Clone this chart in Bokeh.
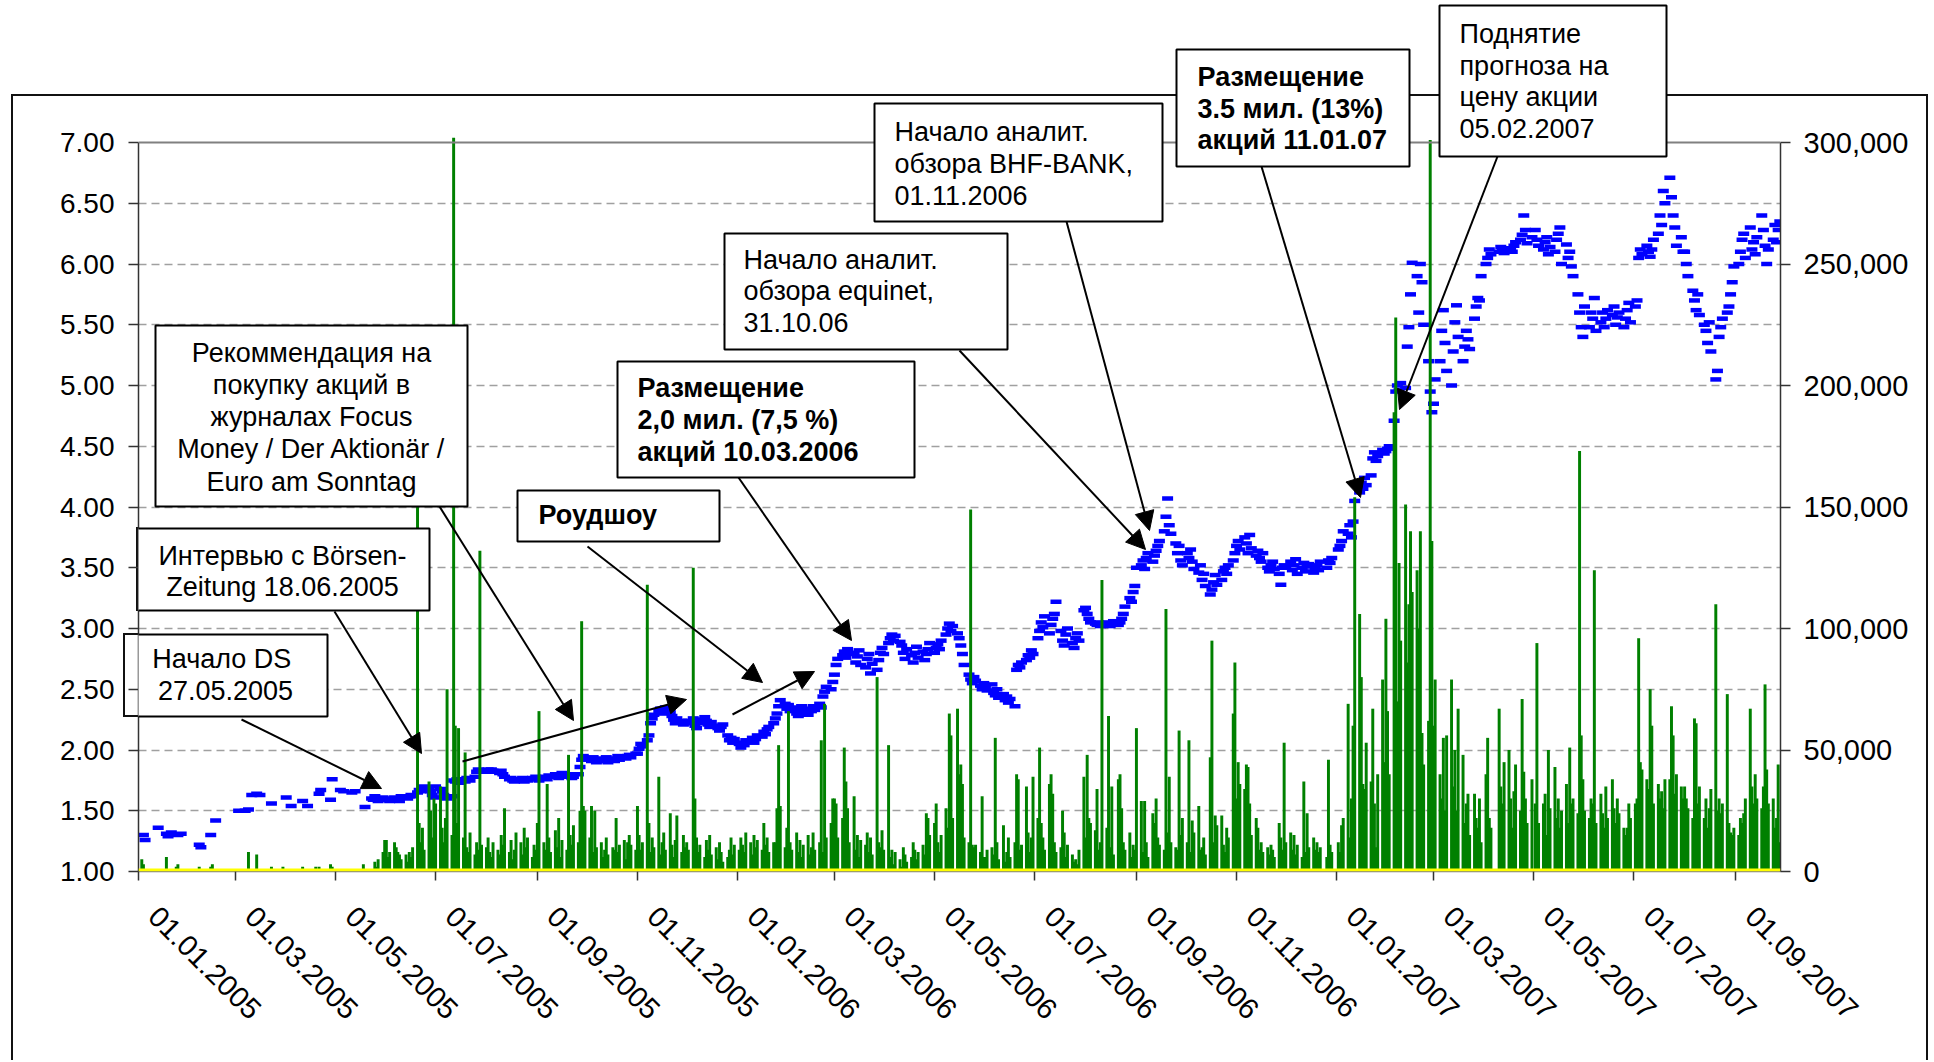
import math
import pandas as pd
from bokeh.plotting import figure
from bokeh.models import (Range1d, LinearAxis, FixedTicker, NumeralTickFormatter, Span,
                          BoxAnnotation, Label, Arrow, NormalHead, ColumnDataSource)
from bokeh.embed import file_html
from bokeh.resources import INLINE

# ---------------------------------------------------------------- data
tick_labels = ["01.01.2005", "01.03.2005", "01.05.2005", "01.07.2005", "01.09.2005",
               "01.11.2005", "01.01.2006", "01.03.2006", "01.05.2006", "01.07.2006",
               "01.09.2006", "01.11.2006", "01.01.2007", "01.03.2007", "01.05.2007",
               "01.07.2007", "01.09.2007"]
price_ticks = [1.0, 1.5, 2.0, 2.5, 3.0, 3.5, 4.0, 4.5, 5.0, 5.5, 6.0, 6.5, 7.0]
volume_ticks = [0, 50000, 100000, 150000, 200000, 250000, 300000]

# daily volume, thousand shares, one list per month (trading days in order)
vol_2005 = [
    [5, 3, 0, 0, 0, 0, 0, 0, 0, 0, 0, 6, 0, 0, 0, 2, 3, 0, 0, 0, 0],
    [0, 0, 0, 0, 2, 0, 0, 0, 0, 2, 3, 0, 0, 0, 0, 0, 0, 0, 0, 0],
    [0, 0, 0, 0, 0, 0, 8, 0, 0, 7, 0, 0, 0, 0, 0, 0, 2, 0, 0, 0, 0, 2, 0],
    [0, 0, 0, 0, 0, 0, 2, 0, 0, 0, 0, 0, 2, 0, 2, 0, 0, 0, 0, 3, 2],
    [0, 0, 0, 0, 0, 0, 0, 0, 0, 0, 0, 0, 3, 0, 0, 0, 0, 4, 2, 5, 8, 13],
    [13, 6, 8, 12, 10, 8, 7, 5, 7, 4, 8, 6, 10, 190, 20, 12, 18, 9, 37, 25, 14, 30],
    [28, 35, 18, 12, 22, 75, 15, 302, 60, 20, 59, 14, 49, 10, 8, 16, 7, 12, 9, 132, 11],
    [10, 14, 8, 6, 12, 9, 7, 15, 11, 26, 8, 13, 5, 9, 16, 12, 7, 18, 10, 14, 6, 11, 9],
    [20, 66, 12, 9, 36, 14, 8, 17, 10, 22, 6, 13, 9, 48, 15, 11, 19, 12, 25, 103, 27, 25],
    [14, 27, 8, 25, 10, 12, 6, 9, 14, 7, 10, 9, 22, 8, 11, 13, 5, 12, 15, 11, 9],
    [27, 15, 9, 12, 118, 20, 8, 14, 10, 39, 7, 12, 16, 9, 24, 11, 6, 13, 23, 8, 15, 10],
    [12, 9, 125, 30, 14, 8, 11, 6, 13, 9, 15, 7, 10, 5, 12, 8, 4, 6, 9, 14, 7, 11],
]
vol_2006 = [
    [9, 14, 11, 8, 16, 12, 7, 15, 10, 13, 9, 20, 11, 14, 8, 12, 12, 26, 52, 27, 10, 18],
    [66, 12, 9, 16, 8, 13, 6, 11, 15, 7, 10, 16, 9, 12, 54, 8, 69, 14, 20, 30],
    [30, 28, 14, 22, 51, 37, 26, 12, 31, 9, 15, 6, 13, 11, 16, 8, 14, 7, 80, 12, 10, 17, 9],
    [52, 6, 9, 3, 8, 5, 2, 10, 7, 4, 6, 12, 9, 5, 8, 11, 7, 24, 22, 15],
    [20, 28, 12, 8, 15, 26, 18, 65, 56, 22, 67, 40, 44, 36, 14, 12, 149, 11, 10, 11, 8, 31, 6],
    [6, 9, 10, 7, 55, 12, 5, 19, 4, 8, 14, 6, 12, 40, 38, 9, 11, 35, 16, 8, 14, 39],
    [22, 51, 20, 14, 9, 36, 40, 32, 12, 8, 10, 25, 16, 6, 11, 7, 4, 5, 3, 9, 39],
    [14, 48, 22, 20, 17, 34, 9, 12, 120, 18, 64, 10, 35, 7, 38, 40, 26, 12, 9, 16, 6, 11, 9],
    [59, 29, 8, 29, 12, 6, 24, 20, 30, 14, 11, 9, 108, 16, 39, 12, 10, 9, 58, 15, 22],
    [12, 54, 8, 21, 16, 27, 9, 10, 14, 7, 47, 95, 12, 23, 19, 23, 11, 8, 18, 14, 65, 86],
    [30, 45, 36, 34, 44, 43, 28, 15, 22, 18, 9, 12, 8, 10, 7, 11, 9, 6, 20, 14, 9, 53],
    [12, 16, 9, 15, 7, 11, 6, 37, 8, 24, 10, 14, 9, 12, 8, 10, 0, 6, 46, 11, 8],
]
vol_2007 = [
    [0, 12, 8, 19, 22, 69, 14, 30, 60, 154, 106, 80, 36, 34, 53, 37, 67, 28, 10, 40, 79, 45, 104],
    [66, 40, 189, 228, 70, 127, 95, 151, 86, 110, 140, 115, 124, 100, 140, 57, 44, 62, 301, 136],
    [60, 79, 40, 30, 55, 25, 56, 79, 35, 50, 25, 67, 48, 20, 28, 32, 15, 32, 22, 18, 30, 12],
    [40, 55, 22, 18, 0, 0, 67, 35, 28, 45, 50, 30, 18, 33, 44, 25, 71, 41, 30, 20, 38],
    [0, 28, 94, 20, 28, 32, 15, 50, 26, 43, 22, 30, 18, 25, 36, 20, 51, 28, 30, 24, 173, 56, 38],
    [25, 22, 30, 28, 124, 20, 32, 24, 18, 35, 22, 38, 26, 20, 30, 24, 18, 15, 18, 28, 22],
    [28, 30, 96, 45, 42, 38, 34, 75, 60, 28, 36, 30, 33, 26, 38, 38, 68, 56, 32, 40, 35, 30],
    [35, 30, 26, 22, 63, 61, 28, 35, 22, 30, 18, 26, 34, 110, 25, 30, 24, 28, 73, 20, 16, 15, 18],
    [15, 22, 20, 24, 30, 67, 35, 28, 40, 30, 26, 35, 77, 42, 28, 30, 18, 22, 44, 12],
]

# daily closing price, euro cents (0 = no trade that day)
price_2005 = [
    [0, 130, 126, 0, 0, 0, 0, 0, 136, 0, 0, 131, 129, 0, 132, 0, 130, 0, 131, 0, 0],
    [0, 0, 0, 0, 122, 120, 0, 0, 0, 130, 0, 0, 142, 0, 0, 0, 0, 0, 0, 0],
    [0, 0, 150, 0, 150, 0, 151, 0, 163, 164, 0, 163, 0, 0, 0, 0, 156, 0, 0, 0, 0, 0, 0],
    [161, 154, 0, 0, 0, 0, 158, 0, 0, 154, 0, 0, 0, 0, 164, 167, 0, 0, 0, 159, 176],
    [0, 0, 167, 0, 166, 0, 0, 165, 0, 166, 0, 0, 0, 153, 0, 160, 159, 162, 160, 158, 161, 159],
    [159, 160, 158, 161, 160, 159, 158, 162, 161, 160, 162, 163, 162, 165, 167, 166, 168, 170, 169, 166, 163, 161],
    [170, 168, 166, 163, 161, 160, 162, 175, 174, 176, 173, 175, 174, 177, 176, 175, 178, 182, 184, 183, 182],
    [183, 184, 182, 184, 183, 182, 181, 183, 180, 178, 176, 177, 175, 174, 176, 175, 177, 174, 176, 175, 177, 176, 178],
    [176, 175, 177, 178, 176, 179, 178, 180, 178, 177, 179, 181, 178, 180, 179, 177, 178, 180, 186, 192, 195, 193],
    [193, 191, 194, 192, 190, 191, 193, 192, 194, 190, 192, 191, 193, 195, 192, 194, 193, 195, 196, 194, 197],
    [197, 201, 205, 203, 208, 212, 222, 226, 229, 232, 234, 230, 233, 235, 231, 228, 225, 222, 226, 224, 221, 223],
    [222, 224, 226, 220, 218, 222, 225, 227, 224, 221, 219, 223, 220, 218, 216, 219, 221, 212, 208, 210, 206, 209],
]
price_2006 = [
    [205, 202, 206, 204, 208, 207, 210, 206, 209, 212, 211, 215, 213, 217, 219, 222, 226, 230, 236, 241, 238, 234],
    [237, 232, 235, 230, 228, 233, 236, 231, 229, 234, 232, 236, 233, 238, 235, 244, 248, 252, 250, 256],
    [262, 270, 275, 278, 281, 276, 283, 279, 280, 272, 277, 282, 270, 268, 275, 279, 263, 271, 266, 274, 280, 284, 279],
    [288, 292, 295, 290, 294, 289, 286, 280, 275, 283, 278, 272, 280, 285, 276, 281, 274, 279, 283, 288],
    [280, 284, 287, 283, 290, 295, 300, 304, 298, 302, 296, 292, 286, 279, 270, 262, 258, 255, 260, 257, 253, 250, 255],
    [252, 249, 254, 247, 245, 250, 243, 246, 241, 244, 239, 242, 236, 266, 270, 268, 272, 274, 278, 276, 282, 279],
    [292, 298, 305, 301, 310, 296, 303, 308, 312, 322, 298, 290, 286, 295, 300, 288, 284, 292, 296, 290, 315],
    [317, 312, 308, 305, 304, 303, 305, 302, 304, 303, 305, 302, 304, 306, 303, 305, 308, 312, 318, 325, 322, 330, 335],
    [350, 352, 356, 349, 358, 362, 355, 360, 364, 368, 372, 380, 392, 407, 385, 378, 370, 362, 368, 356, 352],
    [362, 358, 365, 355, 349, 346, 352, 340, 345, 335, 328, 332, 338, 344, 336, 340, 347, 350, 345, 352, 356, 362],
    [368, 372, 365, 375, 370, 362, 377, 366, 360, 364, 358, 355, 362, 350, 347, 352, 355, 349, 345, 336, 350, 352],
    [350, 355, 348, 352, 357, 345, 350, 354, 347, 351, 353, 346, 349, 352, 348, 355, 0, 350, 356, 354, 358],
]
price_2007 = [
    [0, 365, 368, 372, 380, 378, 385, 375, 388, 405, 412, 420, 415, 424, 418, 426, 440, 445, 438, 442, 447, 444, 446],
    [448, 450, 471, 495, 500, 496, 502, 498, 532, 548, 575, 601, 590, 560, 600, 585, 550, 520, 495, 478],
    [485, 505, 520, 545, 562, 535, 512, 500, 528, 552, 566, 540, 520, 532, 545, 538, 530, 555, 565, 572, 570, 590],
    [600, 605, 612, 608, 0, 0, 610, 614, 611, 609, 613, 612, 610, 615, 618, 620, 624, 640, 628, 617, 622],
    [0, 628, 620, 615, 612, 618, 622, 608, 614, 610, 620, 625, 630, 600, 616, 605, 610, 598, 590, 575, 560, 548, 540],
    [565, 548, 560, 555, 572, 545, 552, 560, 548, 555, 562, 558, 565, 550, 556, 560, 548, 555, 562, 568, 552],
    [565, 570, 605, 612, 608, 615, 610, 606, 612, 620, 625, 640, 632, 660, 650, 671, 655, 640, 630, 615, 622, 610],
    [610, 600, 590, 578, 570, 562, 575, 558, 550, 545, 535, 552, 528, 505, 512, 540, 548, 555, 560, 565, 575, 585, 598],
    [600, 610, 620, 625, 605, 630, 612, 618, 608, 622, 640, 628, 615, 600, 612, 620, 632, 618, 628, 635],
]

# annotation texts
notes = [
    [("Начало  DS", "normal"), ("27.05.2005", "normal")],
    [("Интервью с Börsen-", "normal"), ("Zeitung 18.06.2005", "normal")],
    [("Рекоммендация на", "normal"), ("покупку акций в", "normal"), ("журналах Focus", "normal"),
     ("Money / Der Aktionär /", "normal"), ("Euro am Sonntag", "normal")],
    [("Роудшоу", "bold")],
    [("Размещение", "bold"), ("2,0 мил. (7,5 %)", "bold"), ("акций 10.03.2006", "bold")],
    [("Начало аналит.", "normal"), ("обзора equinet,", "normal"), ("31.10.06", "normal")],
    [("Начало аналит.", "normal"), ("обзора BHF-BANK,", "normal"), ("01.11.2006", "normal")],
    [("Размещение", "bold"), ("3.5 мил. (13%)", "bold"), ("акций 11.01.07", "bold")],
    [("Поднятие", "normal"), ("прогноза на", "normal"), ("цену акции", "normal"), ("05.02.2007", "normal")],
]

# ---------------------------------------------------------------- build series
EPOCH = pd.Timestamp("1970-01-01")
DAY = 86400000.0


def ms(ts):
    return (ts - EPOCH).total_seconds() * 1000.0


vx, vy, px_, py_ = [], [], [], []
for year, vmonths, pmonths in ((2005, vol_2005, price_2005), (2006, vol_2006, price_2006),
                               (2007, vol_2007, price_2007)):
    for m, (vl, pl) in enumerate(zip(vmonths, pmonths), start=1):
        start = pd.Timestamp(year=year, month=m, day=1)
        days = pd.bdate_range(start, start + pd.offsets.MonthEnd(0))
        for d, v in zip(days, vl):
            if v > 0:
                vx.append(ms(d))
                vy.append(v * 1000)
        for d, c in zip(days, pl):
            if c > 0:
                px_.append(ms(d))
                py_.append(c / 100.0)

tick_ms = [ms(pd.Timestamp(year=int(s[6:]), month=int(s[3:5]), day=int(s[:2]))) for s in tick_labels]

# ---------------------------------------------------------------- layout (page pixels)
W, H = 1932, 1060
FL, FR, FB = 138, 1780, 871
PX_PER_DAY = (1735 - 138) / 973.0
T0 = ms(pd.Timestamp("2005-01-01"))


def X(px):
    return T0 + (px - FL) / PX_PER_DAY * DAY


def Y(py):
    return 1 + (FB - py) * 6 / 729.0


p = figure(width=W, height=H, output_backend="svg", toolbar_location=None,
           x_range=Range1d(X(FL), X(FR)), y_range=Range1d(1, Y(0)),
           min_border_left=FL, min_border_right=W - FR, min_border_top=0, min_border_bottom=H - FB,
           background_fill_color=None, border_fill_color=None, outline_line_color=None)
p.extra_y_ranges = {"vol": Range1d(0, (Y(0) - 1) * 50000)}
p.extra_x_ranges = {"lab": Range1d(X(FL - 15), X(FR - 15))}

# chart-area border and the parts of two note boxes that lie left of the plot frame:
# thin CSS strips behind the (transparent) canvas.  (x, y, w, h) in page pixels
strips = [(11, 94, 1917, 2), (11, 94, 2, 1000), (1926, 94, 2, 1000),
          (123, 633, 16, 2), (123, 633, 2, 84), (123, 715, 16, 2),
          (136, 527, 2, 84), (136, 527, 3, 2), (136, 609, 3, 2)]
p.styles = {
    "background-color": "white",
    "background-image": ", ".join(["linear-gradient(#111111, #111111)"] * len(strips)),
    "background-position": ", ".join(f"{x}px {y}px" for x, y, w, h in strips),
    "background-size": ", ".join(f"{w}px {h}px" for x, y, w, h in strips),
    "background-repeat": "no-repeat",
}

FONT = "Liberation Sans"
AX = "#333333"

# left axis
ya = p.yaxis[0]
ya.bounds = (1, 7)
ya.ticker = FixedTicker(ticks=price_ticks)
ya.formatter = NumeralTickFormatter(format="0.00")
ya.major_label_text_font = FONT
ya.major_label_text_font_size = "28px"
ya.major_label_text_color = "black"
ya.major_tick_out = 10
ya.major_tick_in = 0
ya.minor_tick_out = 0
ya.minor_tick_in = 0
ya.axis_line_color = AX
ya.axis_line_width = 1.5
ya.major_tick_line_color = AX
ya.major_tick_line_width = 1.5
ya.major_label_standoff = 14

# right axis
ra = LinearAxis(y_range_name="vol", bounds=(0, 300000), ticker=FixedTicker(ticks=volume_ticks),
                formatter=NumeralTickFormatter(format="0,0"),
                major_label_text_font=FONT, major_label_text_font_size="29px",
                major_label_text_color="black", major_tick_out=10, major_tick_in=0,
                minor_tick_out=0, minor_tick_in=0, axis_line_color=AX, axis_line_width=1.5,
                major_tick_line_color=AX, major_tick_line_width=1.5, major_label_standoff=13)
p.add_layout(ra, "right")

# bottom axis: tick marks
xa = p.xaxis[0]
xa.ticker = FixedTicker(ticks=tick_ms)
xa.major_label_overrides = {t: "" for t in tick_ms}
xa.major_label_text_font_size = "1px"
xa.major_label_standoff = 0
xa.major_tick_out = 9
xa.major_tick_in = 0
xa.minor_tick_out = 0
xa.minor_tick_in = 0
xa.axis_line_color = "#808080"
xa.axis_line_width = 1.5
xa.major_tick_line_color = AX
xa.major_tick_line_width = 1.5

# bottom axis: rotated labels
la = LinearAxis(x_range_name="lab", ticker=FixedTicker(ticks=tick_ms),
                major_label_overrides=dict(zip(tick_ms, tick_labels)),
                major_label_orientation=-math.pi / 4, major_tick_out=0, major_tick_in=0,
                minor_tick_out=0, minor_tick_in=0, axis_line_color=None,
                major_label_standoff=31, major_label_text_font=FONT,
                major_label_text_font_size="29px", major_label_text_color="black")
p.add_layout(la, "below")

# grid
p.xgrid.visible = False
p.ygrid.ticker = FixedTicker(ticks=price_ticks[1:-1])
p.ygrid.grid_line_color = "#A0A0A0"
p.ygrid.grid_line_dash = "8 5"
p.ygrid.grid_line_width = 1.5

# series
src_p = ColumnDataSource(dict(x=px_, y=py_))
p.scatter(x="x", y="y", source=src_p, marker="dash", size=11, line_color="#0000FF", line_width=4.5)
src_v = ColumnDataSource(dict(x=vx, top=vy))
p.vbar(x="x", top="top", bottom=0, width=1.8 * DAY, source=src_v, y_range_name="vol",
       fill_color="#008000", line_color=None)

p.add_layout(Span(location=7, dimension="width", line_color="#808080", line_width=2))
p.add_layout(Span(location=Y(869.5), dimension="width", line_color="#FFFF00", line_width=3))

boxes = [(123, 634, 327, 716), (136, 528, 429, 610), (155, 325, 467, 506), (517, 490, 719, 541),
         (617, 361, 914, 477), (724, 233, 1007, 349), (874, 103, 1162, 221), (1176, 49, 1409, 166),
         (1439, 5, 1666, 156)]
text_pos = [(225, [658, 690], "center"), (282, [555, 586], "center"),
            (311, [352, 384, 416, 448, 481], "center"), (538, [514], "left"),
            (637, [387, 419, 451], "left"), (743, [259, 290, 322], "left"),
            (894, [131, 163, 195], "left"), (1197, [76, 108, 139], "left"),
            (1459, [33, 65, 96, 128], "left")]
for (l, t, r, b), (tx, bases, align), lines in zip(boxes, text_pos, notes):
    p.add_layout(BoxAnnotation(left=X(l), right=X(r), top=Y(t), bottom=Y(b), fill_color="white",
                               fill_alpha=1, line_color="black", line_alpha=1, line_width=2))
    for (txt, style), by in zip(lines, bases):
        p.add_layout(Label(x=X(tx), y=Y(by), text=txt, text_align=align, text_baseline="alphabetic",
                           text_font=FONT, text_font_size="27px", text_font_style=style,
                           text_color="black"))

arrows = [(241, 719, 381, 788), (334, 611, 421, 753), (439, 506, 573, 720), (462, 761, 686, 699),
          (587, 546, 762, 682), (732, 714, 814, 671), (738, 477, 851, 640), (959, 350, 1145, 549),
          (1066, 221, 1149, 530), (1261, 166, 1360, 497), (1497, 156, 1399, 409)]
for x0, y0, x1, y1 in arrows:
    p.add_layout(Arrow(x_start=X(x0), y_start=Y(y0), x_end=X(x1), y_end=Y(y1),
                       line_color="black", line_width=2,
                       end=NormalHead(size=19, fill_color="black", line_color="black", line_width=1)))

open("out.html", "w").write(file_html(p, INLINE))
